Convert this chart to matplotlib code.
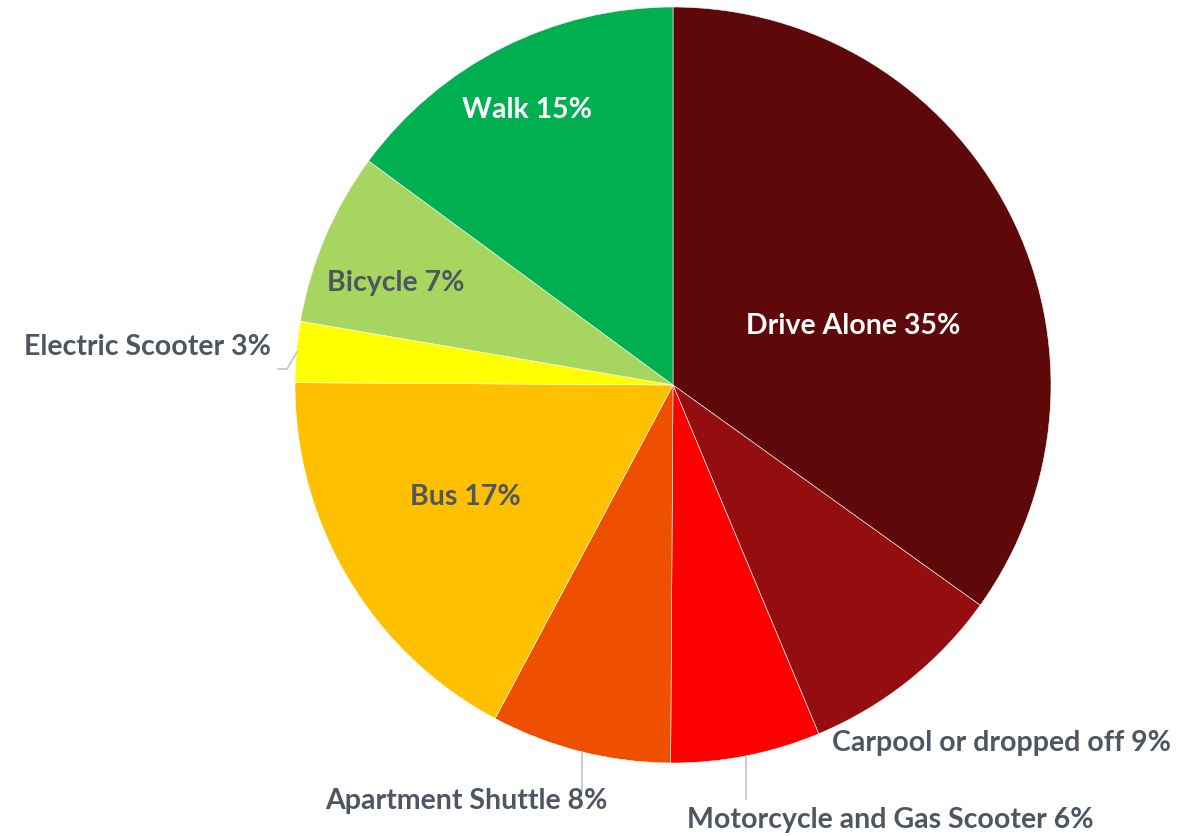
import matplotlib.pyplot as plt

categories = ["Drive Alone", "Carpool or dropped off", "Motorcycle and Gas Scooter",
              "Apartment Shuttle", "Bus", "Electric Scooter", "Bicycle", "Walk"]
# shares (labels show them rounded)
shares = [34.9, 8.8, 6.4, 7.7, 17.3, 2.6, 7.4, 14.9]
colors = ["#5E080A", "#940E0F", "#FF0000", "#EE5000", "#FFC000", "#FFFF00", "#A6D65F", "#00AF50"]

W, H = 1196, 836
cx, cy, r = 673, 385, 378   # pie centre / radius in pixels (y from top)

# label centres in pixels (y from top), text colour
label_pos = [(853, 326, "white"), (1002, 743, "#4E5661"), (890, 820, "#4E5661"),
             (466, 801, "#4E5661"), (465, 497, "#4E5661"), (148, 347, "#4E5661"),
             (396, 283, "#4E5661"), (527, 110, "white")]
leaders = [[(582, 752), (582, 790)], [(746, 757), (746, 799)],
           [(278, 369), (287, 369), (297, 352)]]

plt.rcParams['font.family'] = ['Lato', 'DejaVu Sans']
fig = plt.figure(figsize=(W / 100, H / 100), dpi=100)
ax = fig.add_axes([0, 0, 1, 1])
ax.pie(shares, colors=colors, startangle=90, counterclock=False,
       center=(cx, H - cy), radius=r,
       wedgeprops=dict(edgecolor="white", linewidth=0.4))
ax.set_xlim(0, W)
ax.set_ylim(0, H)
ax.set_aspect('equal')
ax.axis('off')

for cat, val, (x, y, c) in zip(categories, shares, label_pos):
    ax.text(x, H - y, f"{cat} {round(val)}%", color=c, fontsize=20.5, fontweight='bold',
            ha='center', va='center')

for pts in leaders:
    ax.plot([p[0] for p in pts], [H - p[1] for p in pts], color="#BFC4CA", lw=1.2)

fig.savefig("out.png", dpi=100)
